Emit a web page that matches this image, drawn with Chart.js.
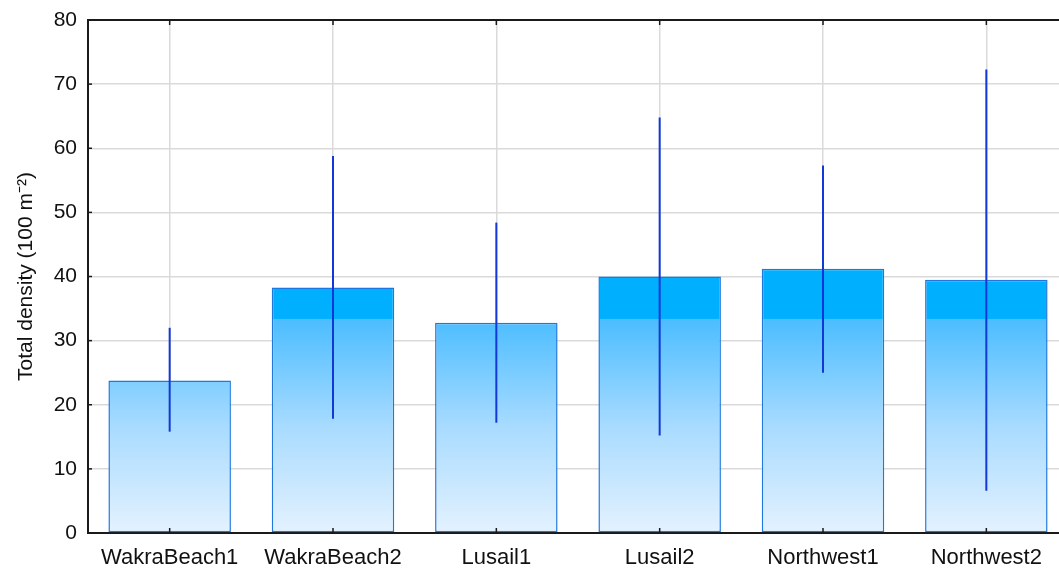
<!DOCTYPE html>
<html>
<head>
<meta charset="utf-8">
<script src="https://cdn.jsdelivr.net/npm/chart.js@4.4.1/dist/chart.umd.min.js"></script>
<style>
  html, body { margin: 0; padding: 0; background: #fff; overflow: hidden; }
  #wrap { width: 1059px; height: 572px; overflow: hidden; }
  canvas { display: block; }
</style>
</head>
<body>
<div id="wrap"><canvas id="c" width="1075" height="572"></canvas></div>
<script>
// Sites sampled
const sites = ['WakraBeach1', 'WakraBeach2', 'Lusail1', 'Lusail2', 'Northwest1', 'Northwest2'];
// Mean total density per site
const meanDensity = [23.8, 38.3, 32.8, 40.0, 41.2, 39.5];
// Error bar extents (upper and lower)
const errHigh = [32.0, 58.8, 48.4, 64.8, 57.3, 72.3];
const errLow = [15.8, 17.8, 17.2, 15.2, 25.0, 6.6];
// Y axis ticks
const yTicks = [0, 10, 20, 30, 40, 50, 60, 70, 80];

const FONT = '"Liberation Sans", Arial, sans-serif';

// Fill gradient anchored to the value axis: solid above ~33, fading to pale below
function barFill(ctx) {
  const chart = ctx.chart;
  const area = chart.chartArea;
  if (!area) return '#00b0ff';
  const y = chart.scales.y;
  const y0 = y.getPixelForValue(0);
  const yS = y.getPixelForValue(33.3);
  const g = chart.ctx.createLinearGradient(0, y0, 0, area.top);
  const f = (y0 - yS) / (y0 - area.top);
  g.addColorStop(0, '#e4f2fe');
  g.addColorStop(f * 0.5, '#a8dbff');
  g.addColorStop(f, '#4cbdff');
  g.addColorStop(Math.min(1, f + 0.002), '#00b0ff');
  g.addColorStop(1, '#00b0ff');
  return g;
}

// Vertical error lines plus frame details (top border, inward ticks)
const extras = {
  id: 'extras',
  afterDatasetsDraw(chart) {
    const { ctx, chartArea, scales } = chart;
    const meta = chart.getDatasetMeta(0);
    ctx.save();
    ctx.strokeStyle = '#1238d6';
    ctx.lineWidth = 2;
    meta.data.forEach((bar, i) => {
      ctx.beginPath();
      ctx.moveTo(bar.x, scales.y.getPixelForValue(errHigh[i]));
      ctx.lineTo(bar.x, scales.y.getPixelForValue(errLow[i]));
      ctx.stroke();
    });
    // top border
    ctx.strokeStyle = '#1a1a1a';
    ctx.lineWidth = 2;
    ctx.beginPath();
    ctx.moveTo(chartArea.left - 1, chartArea.top);
    ctx.lineTo(chartArea.right, chartArea.top);
    ctx.stroke();
    // inward ticks on top and bottom at category centres
    ctx.lineWidth = 1.5;
    meta.data.forEach((bar) => {
      ctx.beginPath();
      ctx.moveTo(bar.x, chartArea.top);
      ctx.lineTo(bar.x, chartArea.top + 5);
      ctx.moveTo(bar.x, chartArea.bottom);
      ctx.lineTo(bar.x, chartArea.bottom - 5);
      ctx.stroke();
    });
    // inward ticks on the value axis
    yTicks.forEach((v) => {
      const py = scales.y.getPixelForValue(v);
      ctx.beginPath();
      ctx.moveTo(chartArea.left, py);
      ctx.lineTo(chartArea.left + 4, py);
      ctx.stroke();
    });
    ctx.restore();
  }
};

new Chart(document.getElementById('c'), {
  type: 'bar',
  data: {
    labels: sites,
    datasets: [{
      data: meanDensity,
      backgroundColor: barFill,
      borderColor: '#1f78e0',
      borderWidth: 1.5,
      borderSkipped: false,
      barPercentage: 0.75,
      categoryPercentage: 1.0
    }]
  },
  options: {
    responsive: false,
    animation: false,
    layout: { padding: { left: 0, right: 7, top: 20, bottom: 0 } },
    plugins: { legend: { display: false }, tooltip: { enabled: false } },
    scales: {
      x: {
        grid: { offset: false, color: '#dadada', lineWidth: 1.5, drawTicks: false },
        border: { color: '#1a1a1a', width: 2 },
        ticks: { color: '#111', font: { family: FONT, size: 22 }, padding: 12, maxRotation: 0 },
        afterFit(s) { s.height = 39; s.paddingLeft = 0; s.paddingRight = 0; }
      },
      y: {
        min: 0, max: 80,
        afterBuildTicks(s) { s.ticks = yTicks.map(v => ({ value: v })); },
        grid: { color: '#dadada', lineWidth: 1.5, drawTicks: false },
        border: { color: '#1a1a1a', width: 2 },
        ticks: { color: '#111', font: { family: FONT, size: 21 }, padding: 11 },
        title: {
          display: true,
          text: 'Total density (100 m\u207B\u00B2)',
          color: '#111',
          font: { family: FONT, size: 21 },
          padding: { top: 14, bottom: 0 }
        },
        afterFit(s) { s.width = 88; s.paddingTop = 0; s.paddingBottom = 0; }
      }
    }
  },
  plugins: [extras]
});
</script>
</body>
</html>
